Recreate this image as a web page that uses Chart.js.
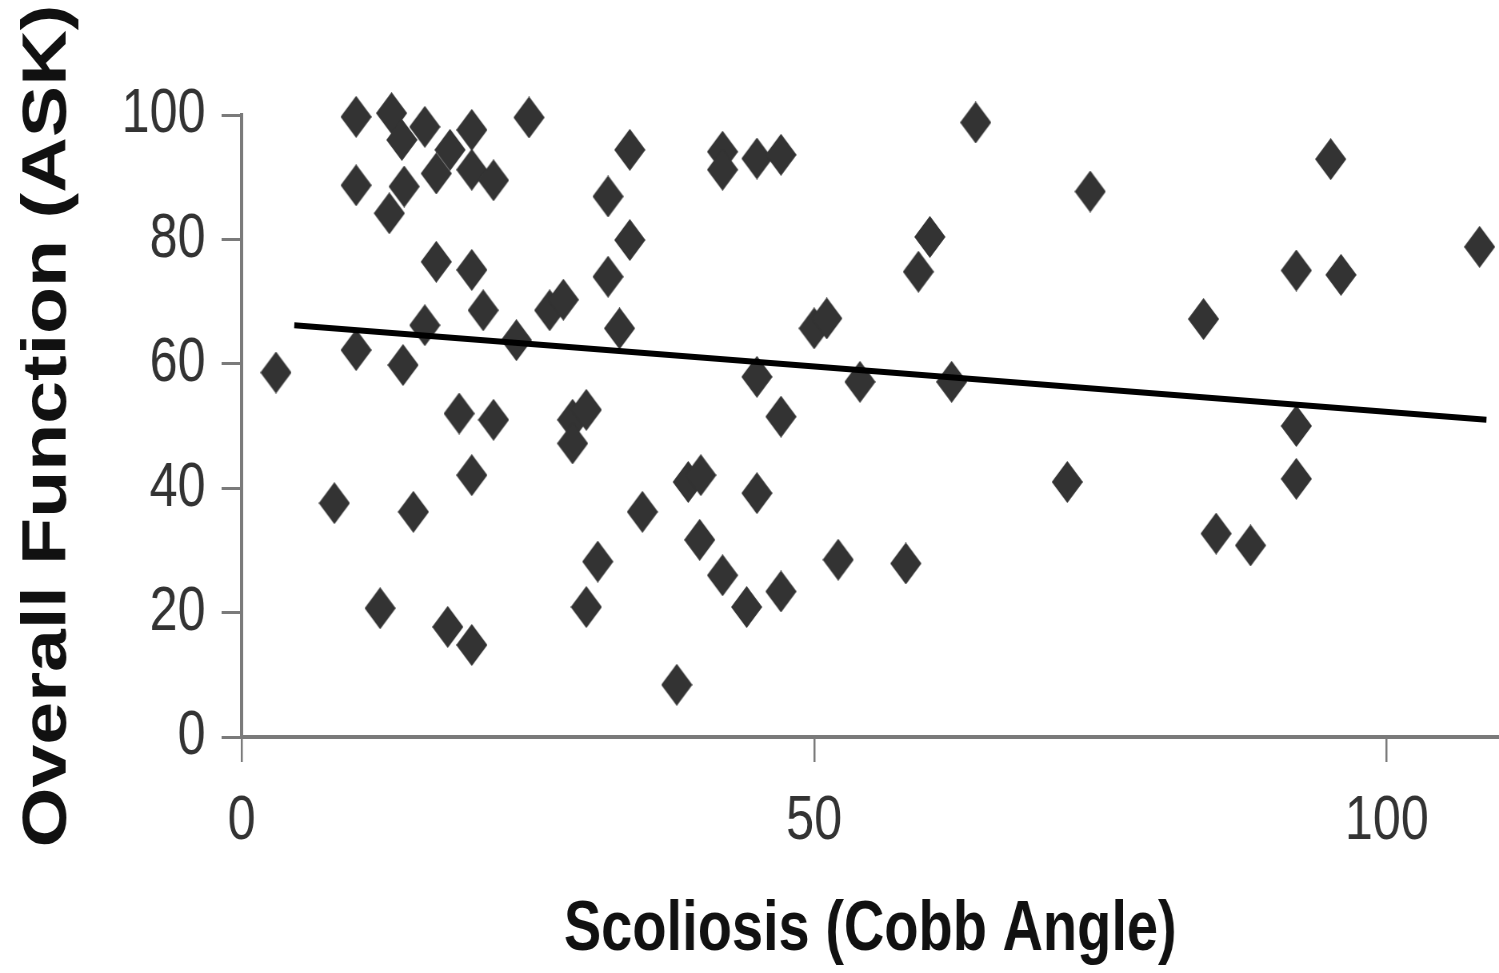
<!DOCTYPE html>
<html>
<head>
<meta charset="utf-8">
<title>Overall Function vs Scoliosis</title>
<script src="https://cdn.jsdelivr.net/npm/chart.js@4/dist/chart.umd.min.js"></script>
<style>
  html, body { margin: 0; padding: 0; background: #fff; overflow: hidden; }
  canvas { display: block; }
</style>
</head>
<body>
<!-- the original figure is squeezed sideways, so the canvas is drawn wide and shown narrow -->
<canvas id="scatterChart" width="1874" height="973" style="width:1499px;height:973px"></canvas>
<script>
// Cobb angle (x) and ASK overall function (y)
const cobbAngle = [
  3, 8.1, 10, 10, 10, 12.1, 12.9, 13.1, 14, 14.2,
  14.1, 15, 16, 16, 17, 18.2, 17, 18, 19, 20.1,
  20.1, 20.1, 20.1, 20.1, 21.1, 22, 22, 24, 25.1, 26.9,
  28.1, 28.9, 28.9, 30.1, 30.1, 31.1, 32, 32, 33, 33.9,
  33.9, 35, 38, 39, 40.1, 40, 42, 42, 42, 45,
  45, 45, 44.1, 47.1, 47.1, 47.1, 50, 51.1, 52.1, 54,
  58, 59.1, 60.1, 62, 64.1, 72.1, 74.1, 84, 85.1, 88.1,
  92.1, 92.1, 92.1, 95.1, 96, 108.1
];
const askScore = [
  58.6, 37.6, 99.7, 88.7, 62.2, 20.7, 84.2, 100.3, 96, 88.5,
  59.8, 36.2, 98.1, 66.2, 90.6, 94.4, 76.4, 17.7, 52, 97.6,
  91.2, 75.1, 42.1, 14.8, 68.6, 89.5, 51, 63.8, 99.6, 68.6,
  70.3, 51, 47.2, 52.6, 20.9, 28.2, 86.9, 74, 65.7, 94.4,
  79.9, 36.2, 8.4, 41, 42.1, 31.7, 94.1, 91.2, 26, 93,
  57.9, 39.2, 20.9, 93.6, 51.5, 23.4, 65.7, 67.3, 28.5, 57.1,
  27.9, 74.8, 80.4, 57.1, 98.8, 41, 87.7, 67.2, 32.7, 30.8,
  75, 50, 41.5, 92.9, 74.3, 78.8
];
// trend line end points
const trendX = [4.6, 108.7];
const trendY = [66.2, 51.0];

const xTicks = [0, 50, 100];
const yTicks = [0, 20, 40, 60, 80, 100];

// diamond marker, drawn wide because the canvas is shown squeezed
function makeDiamond(w, h, color) {
  const c = document.createElement('canvas');
  c.width = w;
  c.height = h;
  const g = c.getContext('2d');
  g.fillStyle = color;
  g.beginPath();
  g.moveTo(w / 2, 0);
  g.lineTo(w, h / 2);
  g.lineTo(w / 2, h);
  g.lineTo(0, h / 2);
  g.closePath();
  g.fill();
  return c;
}
const diamond = makeDiamond(39, 42, '#333333');

const points = cobbAngle.map((x, i) => ({ x, y: askScore[i] }));
const trend = trendX.map((x, i) => ({ x, y: trendY[i] }));

const fontFamily = '"Liberation Sans", Arial, Helvetica, sans-serif';
const axisGray = '#7a7a7a';

const ctx = document.getElementById('scatterChart').getContext('2d');
new Chart(ctx, {
  type: 'scatter',
  data: {
    datasets: [
      {
        label: 'Trend',
        data: trend,
        showLine: true,
        borderColor: '#000',
        borderWidth: 6,
        pointRadius: 0,
        fill: false,
        clip: false
      },
      {
        label: 'Patients',
        data: points,
        pointStyle: diamond,
        pointRadius: 16,
        clip: false
      }
    ]
  },
  options: {
    responsive: false,
    animation: false,
    devicePixelRatio: 1,
    layout: {
      autoPadding: false,
      padding: { top: 115, right: 0, bottom: 0, left: 0 }
    },
    plugins: {
      legend: { display: false },
      tooltip: { enabled: false }
    },
    scales: {
      x: {
        type: 'linear',
        min: 0,
        max: 109.8,
        afterBuildTicks: (scale) => { scale.ticks = xTicks.map(v => ({ value: v })); },
        afterFit: (scale) => {
          scale.height = 236;
          scale.paddingLeft = 0;
          scale.paddingRight = 0;
        },
        border: { display: true, color: axisGray, width: 4 },
        grid: { drawOnChartArea: false, drawTicks: true, tickLength: 25, color: axisGray, lineWidth: 2.5 },
        ticks: {
          padding: 22,
          color: '#333',
          font: { family: fontFamily, size: 63 },
          maxRotation: 0
        },
        title: {
          display: true,
          text: 'Scoliosis (Cobb Angle)',
          color: '#111',
          font: { family: fontFamily, size: 70, weight: 'bold' },
          padding: { top: 0, bottom: 0 }
        }
      },
      y: {
        type: 'linear',
        min: 0,
        max: 100,
        afterBuildTicks: (scale) => { scale.ticks = yTicks.map(v => ({ value: v })); },
        afterFit: (scale) => { scale.width = 302; },
        border: { display: true, color: axisGray, width: 4 },
        grid: { drawOnChartArea: false, drawTicks: true, tickLength: 25, color: axisGray, lineWidth: 3 },
        ticks: {
          padding: 20,
          color: '#333',
          font: { family: fontFamily, size: 63 }
        },
        title: {
          display: true,
          text: 'Overall Function (ASK)',
          color: '#111',
          font: { family: fontFamily, size: 77, weight: 'bold' },
          padding: { top: 15, bottom: 0 }
        }
      }
    }
  }
});
</script>
</body>
</html>
